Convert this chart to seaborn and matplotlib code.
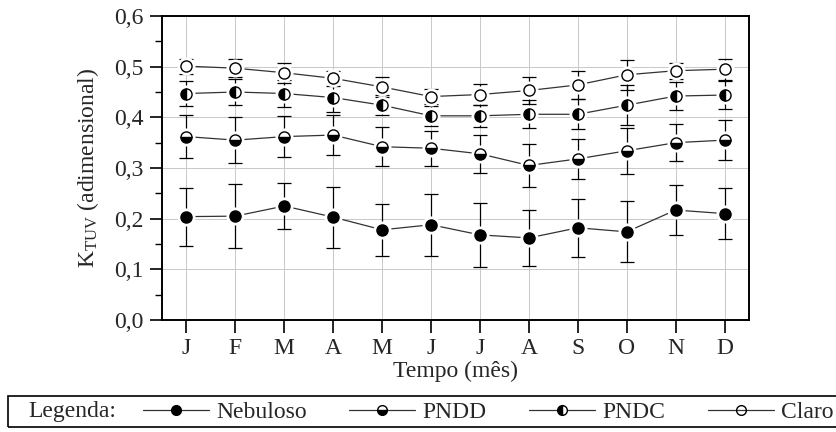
import numpy as np
import matplotlib
matplotlib.use("Agg")
import matplotlib.pyplot as plt
import matplotlib.ticker as mticker
from matplotlib.lines import Line2D
from matplotlib.patches import Rectangle
import seaborn as sns

months = ['J', 'F', 'M', 'A', 'M', 'J', 'J', 'A', 'S', 'O', 'N', 'D']

nebuloso = [0.204, 0.205, 0.225, 0.203, 0.178, 0.188, 0.168, 0.162, 0.182, 0.174, 0.217, 0.210]
nebuloso_err = [0.057, 0.063, 0.046, 0.060, 0.051, 0.061, 0.063, 0.056, 0.057, 0.060, 0.050, 0.050]

pndd = [0.362, 0.355, 0.362, 0.365, 0.342, 0.339, 0.328, 0.305, 0.318, 0.334, 0.350, 0.355]
pndd_err = [0.042, 0.045, 0.040, 0.040, 0.038, 0.035, 0.038, 0.042, 0.040, 0.045, 0.037, 0.040]

pndc = [0.447, 0.450, 0.447, 0.439, 0.424, 0.403, 0.403, 0.406, 0.406, 0.424, 0.442, 0.444]
pndc_err = [0.025, 0.025, 0.027, 0.028, 0.020, 0.020, 0.022, 0.028, 0.030, 0.040, 0.028, 0.028]

claro = [0.501, 0.497, 0.488, 0.477, 0.460, 0.441, 0.445, 0.453, 0.464, 0.484, 0.492, 0.495]
claro_err = [0.015, 0.018, 0.020, 0.015, 0.019, 0.015, 0.020, 0.026, 0.027, 0.030, 0.016, 0.021]

series = [
    ('Nebuloso', nebuloso, nebuloso_err, 'full'),
    ('PNDD', pndd, pndd_err, 'bottom'),
    ('PNDC', pndc, pndc_err, 'left'),
    ('Claro', claro, claro_err, 'none'),
]

sns.set_theme(style="white")
plt.rcParams['font.family'] = ['Liberation Serif', 'DejaVu Serif']
plt.rcParams['mathtext.fontset'] = 'custom'
plt.rcParams['mathtext.rm'] = 'Liberation Serif'
plt.rcParams['mathtext.it'] = 'Liberation Serif:italic'

fig = plt.figure(figsize=(8.36, 4.32), dpi=100)
ax = fig.add_axes([162 / 836, 1 - 320 / 432, (749 - 162) / 836, (320 - 16) / 432])

x = np.arange(len(months))
for name, vals, errs, fill in series:
    # connecting line (Origin style: stops short of the symbols)
    sns.lineplot(x=x, y=vals, ax=ax, color='#333333', linewidth=0.9, zorder=2)
    ax.errorbar(x, vals, yerr=errs, fmt='none', ecolor='black',
                elinewidth=0.9, capsize=5, capthick=0.9, zorder=2.5)
    ax.plot(x, vals, linestyle='none', marker='o', markersize=13,
            markerfacecolor='white', markeredgecolor='none', zorder=3)
    ax.plot(x, vals, linestyle='none', marker='o', markersize=8,
            markerfacecolor='black', markerfacecoloralt='white',
            markeredgecolor='black', markeredgewidth=1.0,
            fillstyle=fill, zorder=4)

ax.set_xlim(-0.5, 11.5)
ax.set_ylim(0, 0.6)
ax.set_xticks(x)
ax.set_xticklabels(months)
ax.yaxis.set_major_locator(mticker.MultipleLocator(0.1))
ax.yaxis.set_minor_locator(mticker.MultipleLocator(0.05))
ax.yaxis.set_major_formatter(mticker.FuncFormatter(lambda v, p: f"{v:.1f}".replace('.', ',')))

ax.grid(True, which='major', color='#c8c8c8', linewidth=0.7)
ax.set_axisbelow(True)
for s in ax.spines.values():
    s.set_color('black')
    s.set_linewidth(1.4)

ax.tick_params(axis='both', which='major', direction='out', length=9, width=1.2,
               color='black', labelsize=17, pad=4, left=True, bottom=True)
ax.tick_params(axis='y', which='minor', direction='out', length=5, width=1.0,
               color='black', left=True)

ax.set_xlabel('Tempo (mês)', fontsize=17, labelpad=1)
ax.set_ylabel(r'K$_{\mathregular{TUV}}$ (adimensional)', fontsize=17, labelpad=10)

# legend box at the bottom
fig.add_artist(Rectangle((8 / 836, 5 / 432), 836 / 836, 31 / 432,
                         transform=fig.transFigure, fill=False,
                         edgecolor='black', linewidth=1.2))
fig.text(28 / 836, 20 / 432, 'Legenda:', fontsize=17, va='center', ha='left')

handles = []
for name, vals, errs, fill in series:
    handles.append(Line2D([], [], color='#333333', linewidth=0.9, marker='o',
                          markersize=7, markerfacecolor='black',
                          markerfacecoloralt='white', markeredgecolor='black',
                          fillstyle=fill, label=name))
fig.legend(handles=handles, loc='center left', bbox_to_anchor=(143 / 836, 20 / 432),
           ncol=4, frameon=False, fontsize=17, handlelength=2.8,
           handletextpad=0.3, columnspacing=1.8, borderaxespad=0, borderpad=0)

fig.savefig('out.png', dpi=100)
